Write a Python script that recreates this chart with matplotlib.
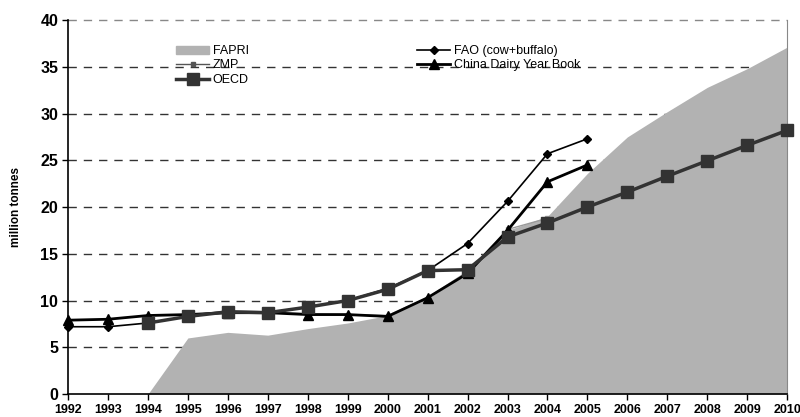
#!/usr/bin/env python3
"""Milk production in China: different sources and projections (million tonnes)."""

import matplotlib
matplotlib.use("Agg")
import matplotlib.pyplot as plt
from matplotlib.patches import Patch
from matplotlib.lines import Line2D

plt.rcParams["font.family"] = ["Liberation Sans", "DejaVu Sans"]

years = list(range(1992, 2011))

fapri_years = list(range(1994, 2011))
fapri = [0.0, 6.0, 6.6, 6.3, 7.0, 7.6, 8.4, 10.2, 13.0, 17.5, 19.0,
         23.6, 27.5, 30.2, 32.8, 34.8, 37.1]

zmp_years = list(range(1995, 2005))
zmp = [8.4, 8.9, 8.8, 8.6, 8.5, 8.4, 10.3, 13.1, 17.6, 18.8]

oecd_years = list(range(1994, 2011))
oecd = [7.6, 8.3, 8.8, 8.7, 9.3, 10.0, 11.2, 13.2, 13.3, 16.8, 18.3,
        20.0, 21.6, 23.3, 24.95, 26.6, 28.2]

fao_years = list(range(1992, 2006))
fao = [7.2, 7.2, 7.6, 8.3, 8.8, 8.7, 9.3, 10.0, 11.3, 13.2, 16.1, 20.6, 25.7, 27.3]

china_years = list(range(1992, 2006))
china = [7.9, 8.0, 8.4, 8.5, 8.7, 8.7, 8.5, 8.5, 8.3, 10.3, 12.9, 17.5, 22.7, 24.5]

AREA = "#b2b2b2"
DARK = "#333333"

fig = plt.figure(figsize=(8.0, 4.17), dpi=100)
ax = fig.add_axes([0.085, 0.055, 0.899, 0.897])

# dashed grid sits under the area
for v in range(5, 40, 5):
    ax.axhline(v, color="#333333", lw=1.0, ls=(0, (6, 5)), zorder=0)
ax.axhline(40, color="#888888", lw=1.0, ls=(0, (6, 5)), zorder=0, clip_on=False)

ax.fill_between(fapri_years, fapri, 0, color=AREA, lw=0, zorder=1)
ax.plot(zmp_years, zmp, color="#9a9a9a", lw=1.0, marker="s", ms=3, zorder=2)
ax.plot(fao_years, fao, color="black", lw=1.2, marker="D", ms=4.5, zorder=3,
        clip_on=False)
ax.plot(china_years, china, color="black", lw=2.0, marker="^", ms=6.5, zorder=4,
        clip_on=False)
ax.plot(oecd_years, oecd, color=DARK, lw=2.5, marker="s", ms=9, zorder=5,
        clip_on=False)

ax.set_xlim(1992, 2010)
ax.set_ylim(0, 40)
ax.set_xticks(years)
ax.set_xticklabels([str(y) for y in years], fontsize=9, fontweight="bold")
ax.set_yticks(range(0, 45, 5))
ax.set_yticklabels([str(v) for v in range(0, 45, 5)], fontsize=11.5,
                   fontweight="bold")
ax.tick_params(length=4, width=1, pad=3)
ax.set_ylabel("million tonnes", fontsize=8.5, fontweight="bold", labelpad=13)

ax.spines["top"].set_visible(False)
ax.spines["right"].set_color("#888888")
ax.spines["left"].set_linewidth(1.2)
ax.spines["bottom"].set_linewidth(1.2)

left_handles = [
    Patch(color=AREA),
    Line2D([], [], color="#555555", lw=1.0, marker="s", ms=3),
    Line2D([], [], color=DARK, lw=2.5, marker="s", ms=9),
]
leg1 = ax.legend(left_handles, ["FAPRI", "ZMP", "OECD"], loc="upper left",
                 bbox_to_anchor=(0.142, 0.95), frameon=False, fontsize=9,
                 handlelength=2.6, handleheight=0.6, handletextpad=0.3,
                 labelspacing=0.2, borderpad=0)
ax.add_artist(leg1)

right_handles = [
    Line2D([], [], color="black", lw=1.2, marker="D", ms=4.5),
    Line2D([], [], color="black", lw=2.0, marker="^", ms=6.5),
]
ax.legend(right_handles, ["FAO (cow+buffalo)", "China Dairy Year Book"],
          loc="upper left", bbox_to_anchor=(0.477, 0.95), frameon=False,
          fontsize=9, handlelength=2.6, handletextpad=0.3, labelspacing=0.2,
          borderpad=0)

fig.savefig("out.png", dpi=100)
